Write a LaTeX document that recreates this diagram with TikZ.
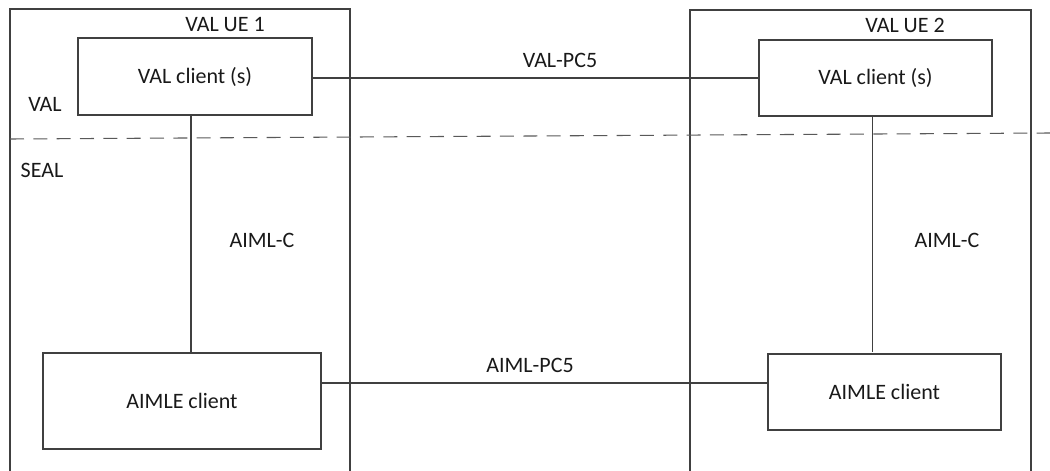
\documentclass[tikz,border=0pt]{standalone}
\usepackage{fontspec}
\setmainfont{Carlito}
\usetikzlibrary{positioning}

\begin{document}
\begin{tikzpicture}[x=0.75pt, y=-0.75pt,
    every node/.style={font=\fontsize{16.5}{18}\selectfont, text=black!90},
    line/.style={draw=black!75, line width=0.8pt}]
    \useasboundingbox (0,0) rectangle (1050,471);
    % the two UE frames, open at the bottom
    \draw[line] (10,480) -- (10,9) -- (350,9) -- (350,480);
    \draw[line] (690,480) -- (690,10) -- (1031,10) -- (1031,480);
    \node (ue1) at (225,25) {VAL UE 1};
    \node (ue2) at (905,25) {VAL UE 2};
    % layer split
    \draw[line, draw=black!65, dash pattern=on 10.5pt off 7pt] (10,139) -- (1050,133);
    \node (val) at (45,104) {VAL};
    \node (seal) at (42,170) {SEAL};
    \begin{scope}[every node/.style={draw=black!75, line width=0.8pt, rectangle,
        inner sep=0pt, font=\fontsize{16.5}{18}\selectfont, text=black!90}]
        \node[minimum width=175.5pt, minimum height=57.75pt] (valL) at (195,76.5){VAL client (s)};
        \node[minimum width=174.75pt, minimum height=57pt] (valR) at (875.5,78){VAL client (s)};
        \node[minimum width=208.5pt, minimum height=72pt] (aimleL) at (182,401){AIMLE client};
        \node[minimum width=174.75pt, minimum height=57pt] (aimleR) at (884.5,392){AIMLE client};
    \end{scope}
    \coordinate (pcB) at (0,383);
    % reference points
    \draw[line] (valL.east |- valR.west) -- (valR.west);
    \draw[line] ([xshift=-3pt]valL.south) -- ([xshift=-3pt]valL.south |- aimleL.north);
    \draw[line] ([xshift=-2.5pt]valR.south) -- ([xshift=-2.5pt]valR.south |- aimleL.north);
    \draw[line] (aimleL.east |- pcB) -- (aimleR.west |- pcB);
    \node (pc5a) at (560,60) {VAL-PC5};
    \node (pc5b) at (530,365) {AIML-PC5};
    \node (cL) at (262,240) {AIML-C};
    \node (cR) at (947,240) {AIML-C};
\end{tikzpicture}
\end{document}
